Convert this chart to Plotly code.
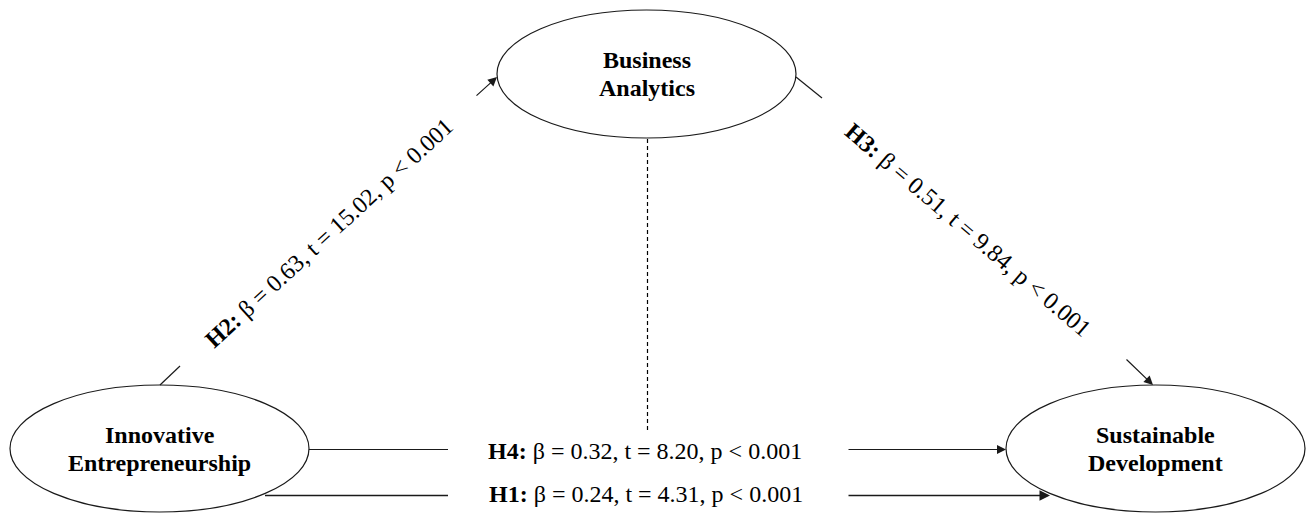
import plotly.graph_objects as go

# Constructs of the structural model
constructs = ["Innovative Entrepreneurship", "Business Analytics", "Sustainable Development"]
construct_lines = [["Innovative", "Entrepreneurship"], ["Business", "Analytics"], ["Sustainable", "Development"]]

# Path estimates
hypotheses = ["H1", "H2", "H3", "H4"]
betas = [0.24, 0.63, 0.51, 0.32]
t_values = [4.31, 15.02, 9.84, 8.20]
p_thresholds = ["0.001", "0.001", "0.001", "0.001"]


def path_label(i):
    return (f"<b>{hypotheses[i]}:</b> β = {betas[i]:.2f}, "
            f"t = {t_values[i]:.2f}, p < {p_thresholds[i]}")


W, H = 1306, 513
FONT = "Liberation Serif, Times New Roman, serif"
INK = "#1a1a1a"
FS = 24

# Ellipse geometry (pixel space, y downward)
nodes = {
    "IE": dict(cx=159.5, cy=448.5, rx=149.5, ry=63.5),
    "BA": dict(cx=646.5, cy=74.0, rx=149.5, ry=64.0),
    "SD": dict(cx=1155.5, cy=448.5, rx=149.5, ry=63.5),
}
node_keys = ["IE", "BA", "SD"]

fig = go.Figure()
shapes = []
annotations = []

for key, lines in zip(node_keys, construct_lines):
    n = nodes[key]
    shapes.append(dict(type="circle", xref="x", yref="y",
                       x0=n["cx"] - n["rx"], x1=n["cx"] + n["rx"],
                       y0=n["cy"] - n["ry"], y1=n["cy"] + n["ry"],
                       line=dict(color=INK, width=1.2), fillcolor="rgba(0,0,0,0)"))
    for j, txt in enumerate(lines):
        annotations.append(dict(x=n["cx"], y=n["cy"] - 14 + 28 * j, xref="x", yref="y",
                                text=f"<b>{txt}</b>", showarrow=False,
                                font=dict(family=FONT, size=FS, color="#000"),
                                xanchor="center", yanchor="middle"))


def seg(x0, y0, x1, y1, width=1.2, dash="solid", color=INK):
    shapes.append(dict(type="line", xref="x", yref="y", x0=x0, y0=y0, x1=x1, y1=y1,
                       line=dict(color=color, width=width, dash=dash)))


def arrow(x0, y0, x1, y1, width=1.2):
    annotations.append(dict(x=x1, y=y1, ax=x0, ay=y0, xref="x", yref="y",
                            axref="x", ayref="y", text="", showarrow=True,
                            arrowhead=2, arrowsize=1.5, arrowwidth=width,
                            arrowcolor=INK, standoff=0, startstandoff=0))


def label(i, x, y, angle=0):
    annotations.append(dict(x=x, y=y, xref="x", yref="y", text=path_label(i),
                            showarrow=False, textangle=angle,
                            font=dict(family=FONT, size=FS, color="#000"),
                            xanchor="center", yanchor="middle"))


# H2: Innovative Entrepreneurship -> Business Analytics
seg(160, 385, 180, 366)
arrow(475, 97, 497, 77)
label(1, 329, 233, -42.5)

# H3: Business Analytics -> Sustainable Development
seg(796, 77, 822, 98)
arrow(1125, 358, 1153, 385)
label(2, 968, 230, 40.5)

# H4: indirect path, mediated through Business Analytics
seg(647.5, 139, 647.5, 433, width=1.2, dash="4px,3px", color="#000")
seg(309, 449.5, 448, 449.5)
arrow(847, 449.5, 1006, 449.5)
label(3, 645, 451)

# H1: direct path
seg(265, 495.5, 448, 495.5, width=1.6)
arrow(847, 495.5, 1050, 495.5, width=1.4)
label(0, 646, 494)

fig.update_layout(
    width=W, height=H,
    margin=dict(l=0, r=0, t=0, b=0),
    paper_bgcolor="white", plot_bgcolor="white",
    xaxis=dict(range=[0, W], visible=False, fixedrange=True),
    yaxis=dict(range=[H, 0], visible=False, fixedrange=True),
    shapes=shapes, annotations=annotations, showlegend=False,
)

fig.write_html("out.html", config={"displayModeBar": False})
